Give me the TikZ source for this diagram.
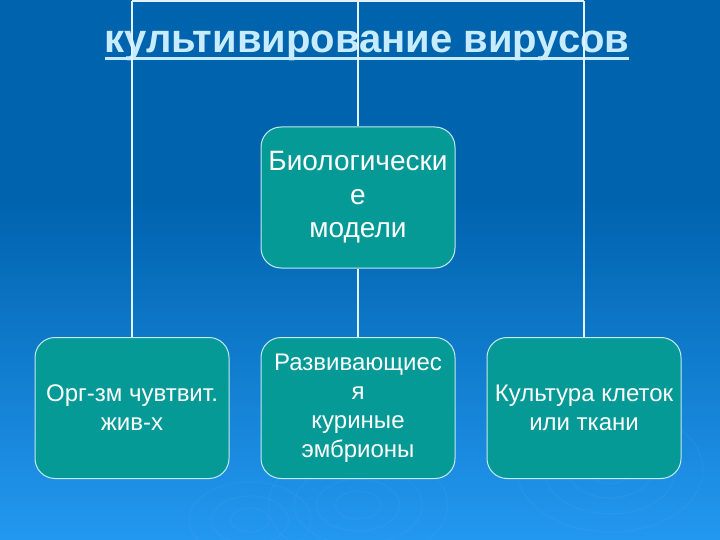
\documentclass[tikz,border=0pt]{standalone}
\usepackage{fontspec}
\setmainfont{Liberation Sans}
\definecolor{bgtop}{HTML}{0063AE}
\definecolor{bgbot}{HTML}{2398F0}
\definecolor{titlecol}{HTML}{C8ECFF}
\definecolor{linecol}{HTML}{E2F2FF}
\definecolor{boxfill}{HTML}{059A96}
\definecolor{boxline}{HTML}{C4EAF0}
\definecolor{ripple}{HTML}{5AB4F4}
\tikzset{
  box/.style={draw=boxline, line width=1pt, fill=boxfill, rounded corners=20pt,
    minimum width=194pt, minimum height=141pt, inner sep=0pt,
    align=center, text=white},
  topfont/.style={font=\fontsize{28}{33.5}\selectfont},
  botfont/.style={font=\fontsize{24}{29}\selectfont},
  conn/.style={draw=linecol, line width=2pt},
  rip/.style={draw=ripple, line width=1.2pt, opacity=0.12}
}
\begin{document}
\begin{tikzpicture}[x=1pt,y=-1pt]
\useasboundingbox (0,0) rectangle (720,540);
\fill[bgtop] (0,0) rectangle (720,200);
\shade[top color=bgtop, bottom color=bgbot] (0,199.5) rectangle (720,540);
% faint ripples
\foreach \r in {14,26,40,56} {\draw[rip] (358,505) ellipse ({\r*1.6} and \r);}
\foreach \r in {14,28,44,62} {\draw[rip] (610,470) ellipse ({\r*1.5} and \r);}
\foreach \r in {12,24,38} {\draw[rip] (250,520) ellipse ({\r*1.6} and \r);}
% title
\node[anchor=base, inner sep=0pt, text=titlecol, font=\fontsize{40}{44}\selectfont\bfseries] (title) at (367,53) {культивирование вирусов};
\draw[titlecol, line width=3pt] ([yshift=-6pt]title.base west) -- ([yshift=-6pt]title.base east);
% nodes
\node[box, topfont] (T) at (358,197.5) {Биологически\\е\\модели};
\node[box, botfont] (L) at (132,408) {Орг-зм чувтвит.\\жив-х};
\node[box, botfont] (M) at (358,408) {Развивающиес\\я\\куриные\\эмбрионы};
\node[box, botfont] (R) at (584,408) {Культура клеток\\или ткани};
% connectors
\coordinate (tl) at (132,1);
\coordinate (tm) at (358,1);
\coordinate (tr) at (584,1);
\draw[conn] (tl) -- (tr);
\draw[conn] (tl) -- (L.north);
\draw[conn] (tm) -- (T.north);
\draw[conn] (tr) -- (R.north);
\draw[conn] (T.south) -- (M.north);
\end{tikzpicture}
\end{document}
